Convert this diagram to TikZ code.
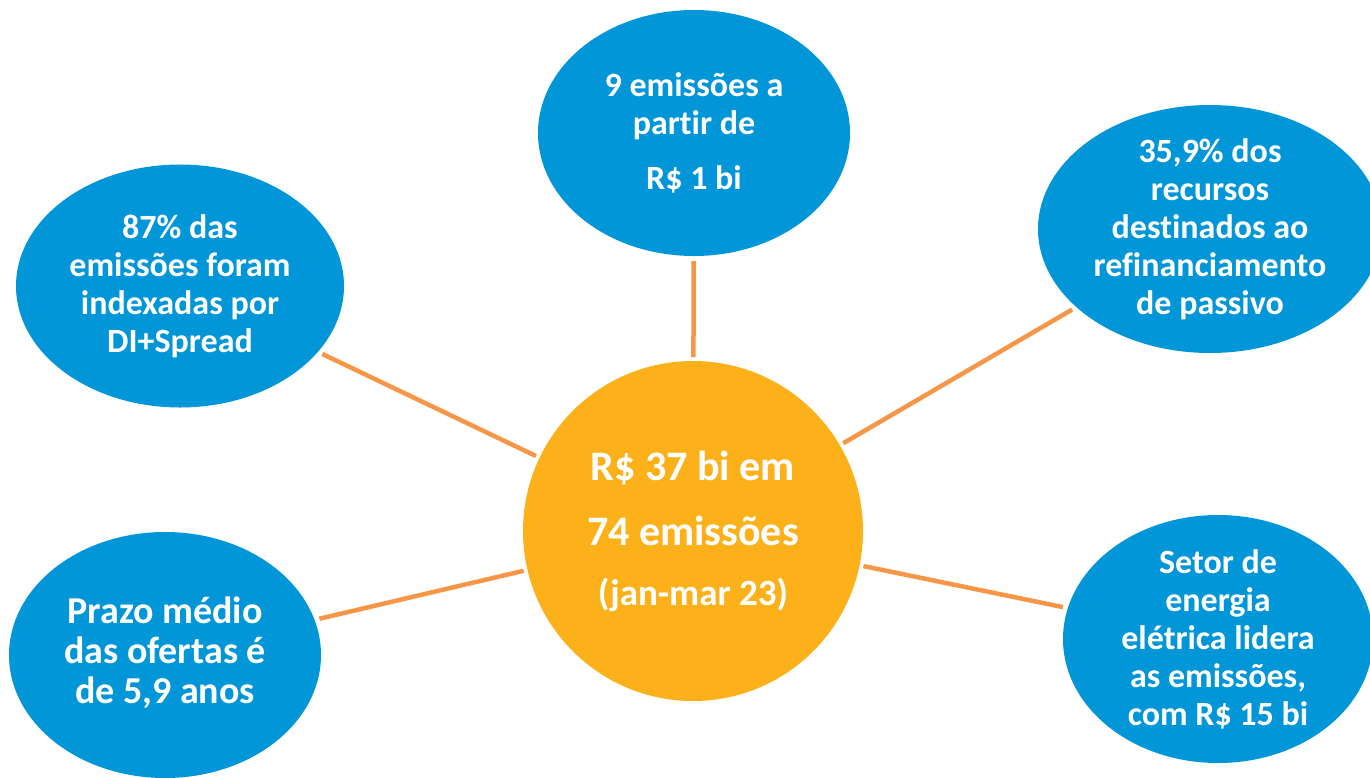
\documentclass[tikz,border=0pt]{standalone}
\usepackage{fontspec}
\setmainfont[Ligatures=NoCommon,RawFeature={-liga;-clig;-dlig;-calt}]{Carlito}
\usetikzlibrary{shapes.geometric}
\definecolor{bolha}{RGB}{0,150,215}
\definecolor{centro}{RGB}{252,176,26}
\definecolor{linha}{RGB}{247,150,70}
\begin{document}
\begin{tikzpicture}[x=1pt,y=-1pt,
  bolha/.style={ellipse,fill=bolha,inner sep=0pt,outer sep=0pt},
  texto/.style={text=white,align=center,inner sep=0pt,font=\bfseries\fontsize{34}{38}\selectfont},
  liga/.style={draw=linha,line width=4.5pt,shorten <=4pt,shorten >=5pt}]
 \useasboundingbox (0,0) rectangle (1370,777);
 \clip (0,0) rectangle (1370,777);
 % bolhas
 \node[bolha,minimum width=312pt,minimum height=246pt] (emis) at (694,133) {};
 \node[bolha,minimum width=328pt,minimum height=243pt] (idx) at (180,286) {};
 \node[bolha,minimum width=344pt,minimum height=248pt] (refin) at (1210,229) {};
 \node[bolha,minimum width=312pt,minimum height=246pt] (prazo) at (165,655) {};
 \node[bolha,minimum width=310pt,minimum height=248pt] (setor) at (1218,639) {};
 \node[circle,fill=centro,minimum size=340pt,inner sep=0pt,outer sep=0pt] (total) at (693,531) {};
 % ligacoes
 \draw[liga] (total) -- (emis);
 \draw[liga] (total) -- (idx);
 \draw[liga] (total) -- (refin);
 \draw[liga] (total) -- (prazo);
 \draw[liga] (total) -- (setor);
 % textos
 \node[texto] (emis-t) at (emis) {9 emissões a\\partir de\\[17pt]R\$ 1 bi};
 \node[texto] (idx-t) at (idx) {87\% das\\emissões foram\\indexadas por\\DI+Spread};
 \node[texto] (refin-t) at (refin) {35,9\% dos\\recursos\\destinados ao\\refinanciamento\\de passivo};
 \node[texto,font=\bfseries\fontsize{38}{40}\selectfont] (prazo-t) at ([yshift=2pt]prazo.center) {Prazo médio\\das ofertas é\\de 5,9 anos};
 \node[texto] (setor-t) at (setor) {Setor de\\energia\\elétrica lidera\\as emissões,\\com R\$ 15 bi};
 \node[texto,font=\bfseries\fontsize{42}{65}\selectfont] (total-t) at (total)
   {R\$ 37 bi em\\74 emissões\\[-5pt]{\fontsize{37}{44}\selectfont (jan-mar 23)}};
\end{tikzpicture}
\end{document}
